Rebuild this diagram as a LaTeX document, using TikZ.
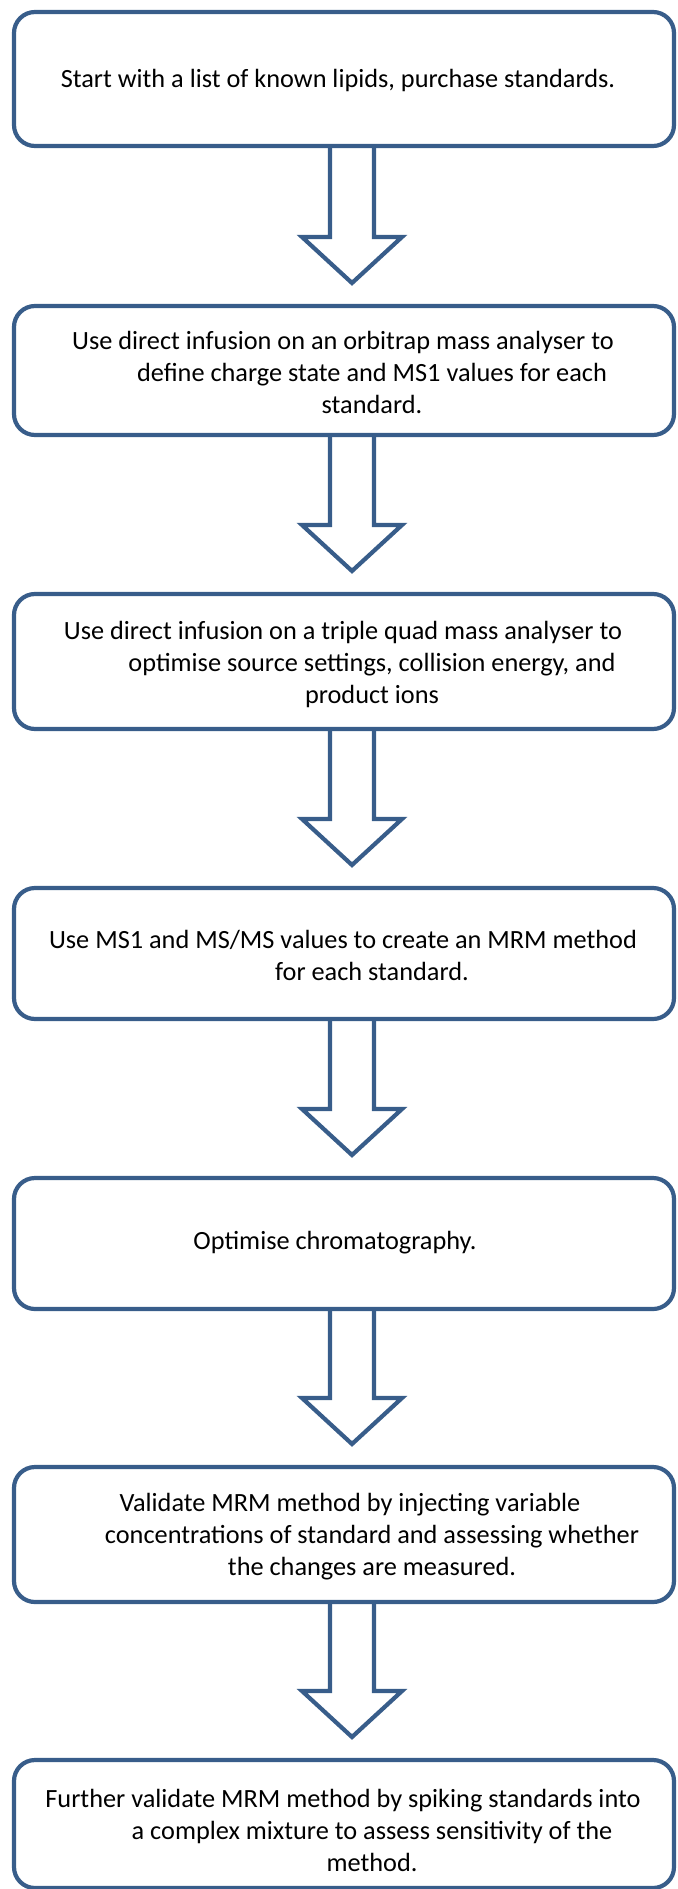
\documentclass[tikz,border=0pt]{standalone}
\usepackage{fontspec}
\setmainfont{Carlito}
\usetikzlibrary{calc}
\definecolor{bord}{HTML}{385D8A}
\tikzset{
  stepbox/.style={draw=bord, line width=4.2pt, rounded corners=21pt, minimum width=660pt,
    inner sep=0pt, outer sep=0pt},
  steptext/.style={inner sep=0pt, align=center, font=\fontsize{26.3}{32}\selectfont, text=black},
  barrow/.style={draw=bord, line width=4.2pt, line join=miter},
}
\newcommand\flshift[1][58pt]{\hspace*{-#1}}
\newcommand\blockarrow[2]{%
  \draw[barrow] let \p1=($(#1.south)+(8,0)$), \p2=($(#2.north)+(8,23)$) in
    (\x1-22pt,\y1) -- (\x1-22pt,\y2+46pt) -- (\x1-50pt,\y2+46pt) -- (\x2,\y2)
    -- (\x1+50pt,\y2+46pt) -- (\x1+22pt,\y2+46pt) -- (\x1+22pt,\y1);}
\begin{document}
\begin{tikzpicture}[x=1pt,y=1pt]
\useasboundingbox (0,0) rectangle (677,-1889);
\clip (0,0) rectangle (677,-1889);
% boxes
\node[stepbox, minimum height=134pt] (b1) at (344,-79) {};
\node[stepbox, minimum height=129pt] (b2) at (344,-370.5) {};
\node[stepbox, minimum height=135pt] (b3) at (344,-661.5) {};
\node[stepbox, minimum height=131pt] (b4) at (344,-953.5) {};
\node[stepbox, minimum height=131pt] (b5) at (344,-1243.5) {};
\node[stepbox, minimum height=135pt] (b6) at (344,-1534.5) {};
\node[stepbox, minimum height=128pt] (b7) at (344,-1824) {};
% texts
\node[steptext] (t1) at (338,-80) {Start with a list of known lipids, purchase standards.};
\node[steptext] (t2) at (372,-372) {\flshift Use direct infusion on an orbitrap mass analyser to\\ define charge state and MS1 values for each\\ standard.};
\node[steptext] (t3) at (372,-664) {\flshift Use direct infusion on a triple quad mass analyser to\\ optimise source settings, collision energy, and\\ product ions};
\node[steptext] (t4) at (372,-955) {\flshift Use MS1 and MS/MS values to create an MRM method\\ for each standard.};
\node[steptext] (t5) at (335,-1243) {Optimise chromatography.};
\node[steptext] (t6) at (372,-1537) {\flshift[44pt]Validate MRM method by injecting variable\\ concentrations of standard and assessing whether\\ the changes are measured.};
\node[steptext] (t7) at (372,-1830) {\flshift Further validate MRM method by spiking standards into\\ a complex mixture to assess sensitivity of the\\ method.};
% arrows
\blockarrow{b1}{b2}
\blockarrow{b2}{b3}
\blockarrow{b3}{b4}
\blockarrow{b4}{b5}
\blockarrow{b5}{b6}
\blockarrow{b6}{b7}
\end{tikzpicture}
\end{document}
